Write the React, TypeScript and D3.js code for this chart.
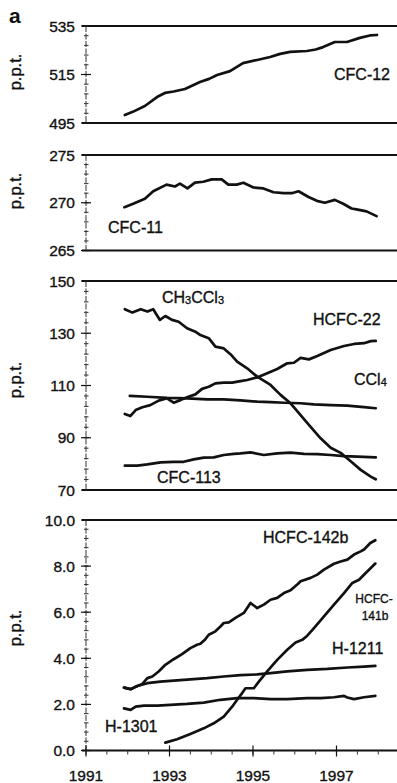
import React from "react";
import * as d3 from "d3";

// ---------- data ----------
const cfc12Years = [1991.93, 1992.12, 1992.41, 1992.70, 1992.89, 1993.10, 1993.37, 1993.73, 1993.95, 1994.14, 1994.45, 1994.76, 1995.10, 1995.41, 1995.65, 1995.89, 1996.29, 1996.50, 1996.68, 1996.96, 1997.25, 1997.56, 1997.80, 1997.97];
const cfc12Values = [498.3, 499.6, 502.0, 505.7, 507.4, 508.0, 509.0, 511.9, 513.2, 514.8, 516.4, 519.7, 521.0, 522.2, 523.5, 524.3, 524.7, 525.3, 526.3, 528.4, 528.4, 530.1, 531.1, 531.3];

const cfc11Years = [1991.92, 1992.13, 1992.41, 1992.61, 1992.93, 1993.13, 1993.25, 1993.43, 1993.61, 1993.81, 1994.01, 1994.25, 1994.41, 1994.61, 1994.77, 1995.01, 1995.25, 1995.49, 1995.73, 1995.93, 1996.09, 1996.33, 1996.53, 1996.72, 1996.96, 1997.16, 1997.36, 1997.48, 1997.72, 1997.96];
const cfc11Values = [269.54, 269.9, 270.42, 271.2, 271.9, 271.7, 272.0, 271.5, 272.1, 272.2, 272.45, 272.45, 271.9, 271.9, 272.1, 271.6, 271.5, 271.1, 271.0, 271.0, 271.2, 270.6, 270.2, 270.0, 270.3, 269.9, 269.4, 269.3, 269.1, 268.6];

const ch3ccl3Years = [1991.93, 1992.11, 1992.31, 1992.47, 1992.61, 1992.77, 1992.90, 1993.06, 1993.22, 1993.42, 1993.62, 1993.74, 1993.94, 1994.10, 1994.30, 1994.46, 1994.62, 1994.86, 1995.10, 1995.42, 1995.66, 1995.90, 1996.14, 1996.38, 1996.62, 1996.86, 1997.10, 1997.34, 1997.58, 1997.82, 1997.94];
const ch3ccl3Values = [139.2, 137.9, 139.2, 138.3, 139.2, 135.1, 136.6, 135.1, 134.4, 131.9, 130.6, 129.3, 128.1, 124.9, 124.2, 122.0, 119.1, 116.6, 113.4, 110.2, 106.4, 103.2, 98.7, 94.2, 89.8, 86.2, 84.2, 81.0, 77.7, 75.1, 74.1];

const hcfc22Years = [1991.93, 1992.06, 1992.19, 1992.35, 1992.54, 1992.74, 1992.94, 1993.10, 1993.26, 1993.42, 1993.62, 1993.78, 1993.94, 1994.10, 1994.30, 1994.50, 1994.70, 1994.86, 1995.10, 1995.34, 1995.58, 1995.82, 1995.98, 1996.14, 1996.34, 1996.54, 1996.86, 1997.18, 1997.42, 1997.66, 1997.82, 1997.94];
const hcfc22Values = [99.1, 98.3, 100.6, 101.7, 102.5, 104.2, 105.1, 103.4, 104.4, 105.5, 106.6, 108.7, 109.5, 110.8, 111.1, 111.1, 111.7, 112.1, 113.1, 114.7, 116.3, 118.5, 118.7, 120.6, 120.0, 121.3, 123.6, 125.1, 125.9, 126.2, 127.0, 127.1];

const ccl4Years = [1992.05, 1992.47, 1992.94, 1993.42, 1993.90, 1994.30, 1994.70, 1995.10, 1995.42, 1995.74, 1996.14, 1996.46, 1996.86, 1997.26, 1997.66, 1997.94];
const ccl4Values = [106.0, 105.7, 105.3, 105.1, 104.7, 104.7, 104.3, 103.8, 103.6, 103.4, 103.2, 102.8, 102.5, 102.3, 101.7, 101.3];

const cfc113Years = [1991.93, 1992.23, 1992.47, 1992.79, 1993.10, 1993.34, 1993.58, 1993.82, 1994.06, 1994.30, 1994.54, 1994.70, 1994.94, 1995.26, 1995.58, 1995.90, 1996.22, 1996.54, 1996.86, 1997.18, 1997.50, 1997.94];
const cfc113Values = [79.3, 79.3, 79.8, 80.6, 80.8, 80.8, 81.7, 82.4, 82.5, 83.4, 83.8, 84.0, 84.4, 83.4, 84.0, 84.3, 83.8, 83.7, 83.4, 83.0, 82.8, 82.5];

const hcfc142bYears = [1991.91, 1992.07, 1992.19, 1992.35, 1992.47, 1992.59, 1992.74, 1992.90, 1993.10, 1993.30, 1993.50, 1993.66, 1993.74, 1993.86, 1993.94, 1994.10, 1994.22, 1994.30, 1994.42, 1994.58, 1994.78, 1994.94, 1995.10, 1995.26, 1995.42, 1995.58, 1995.74, 1995.90, 1996.06, 1996.14, 1996.38, 1996.54, 1996.70, 1996.94, 1997.10, 1997.26, 1997.42, 1997.58, 1997.66, 1997.81, 1997.93];
const hcfc142bValues = [2.73, 2.66, 2.77, 2.89, 3.14, 3.21, 3.43, 3.72, 3.96, 4.18, 4.44, 4.59, 4.63, 4.83, 5.02, 5.17, 5.38, 5.53, 5.56, 5.75, 5.97, 6.40, 6.18, 6.33, 6.54, 6.62, 6.83, 6.95, 7.20, 7.34, 7.49, 7.63, 7.85, 8.10, 8.20, 8.28, 8.50, 8.64, 8.72, 9.00, 9.12];

const hcfc141bYears = [1992.90, 1993.18, 1993.50, 1993.82, 1994.06, 1994.30, 1994.50, 1994.62, 1994.74, 1994.82, 1995.02, 1995.14, 1995.34, 1995.58, 1995.82, 1996.02, 1996.18, 1996.30, 1996.46, 1996.70, 1996.94, 1997.18, 1997.38, 1997.54, 1997.70, 1997.93];
const hcfc141bValues = [0.34, 0.49, 0.72, 0.96, 1.18, 1.47, 1.90, 2.20, 2.49, 2.70, 2.70, 2.99, 3.43, 3.93, 4.37, 4.69, 4.80, 4.98, 5.31, 5.82, 6.33, 6.83, 7.27, 7.41, 7.70, 8.11];

const h1211Years = [1991.91, 1992.07, 1992.23, 1992.47, 1992.78, 1993.18, 1993.58, 1993.90, 1994.30, 1994.70, 1995.10, 1995.42, 1995.82, 1996.30, 1996.78, 1997.26, 1997.66, 1997.93];
const h1211Values = [2.73, 2.66, 2.80, 2.92, 2.99, 3.04, 3.10, 3.14, 3.21, 3.27, 3.30, 3.36, 3.43, 3.50, 3.54, 3.60, 3.64, 3.67];

const h1301Years = [1991.91, 1992.07, 1992.19, 1992.39, 1992.71, 1993.02, 1993.42, 1993.82, 1994.22, 1994.62, 1995.02, 1995.42, 1995.82, 1996.30, 1996.62, 1996.94, 1997.18, 1997.26, 1997.42, 1997.66, 1997.93];
const h1301Values = [1.83, 1.76, 1.90, 1.95, 1.95, 1.98, 2.02, 2.08, 2.20, 2.27, 2.27, 2.23, 2.23, 2.27, 2.27, 2.31, 2.37, 2.30, 2.23, 2.31, 2.37];

const panel1Ticks = [495, 515, 535];
const panel2Ticks = [265, 270, 275];
const panel3Ticks = [70, 90, 110, 130, 150];
const panel4Ticks = [0, 2, 4, 6, 8, 10];
const xMajorTicks = [1991, 1993, 1995, 1997];

// ---------- layout ----------
const W = 397;
const H = 783;
const X0 = 86;
const X1 = 397;
const FONT = "'Liberation Sans', Arial, Helvetica, sans-serif";
const INK = "#111";
const TXT = { fontFamily: FONT, fill: INK, stroke: INK, strokeWidth: 0.35 } as const;

const xScale = d3.scaleLinear().domain([1991, 1991 + (X1 - X0) / 41.75]).range([X0, X1]);

type Series = { years: number[]; values: number[] };

function Panel({
  domain, top, bottom, ticks, minorStep, fmt, series, labelY,
}: {
  domain: [number, number]; top: number; bottom: number; ticks: number[];
  minorStep: number; fmt: (v: number) => string; series: Series[]; labelY: number;
}) {
  const y = d3.scaleLinear().domain(domain).range([bottom, top]);
  const line = d3.line<[number, number]>().x((d) => xScale(d[0])).y((d) => y(d[1]));
  const n = Math.round((domain[1] - domain[0]) / minorStep);
  const minor = d3.range(n + 1).map((i) => domain[0] + i * minorStep);
  return (
    <g>
      <line x1={X0 - 4} x2={X1} y1={top} y2={top} stroke={INK} strokeWidth={2} />
      <line x1={X0 - 4} x2={X1} y1={bottom} y2={bottom} stroke={INK} strokeWidth={2} />
      <line x1={X0} x2={X0} y1={top} y2={bottom} stroke="#333" strokeWidth={1} strokeDasharray="6,1.5" />
      {minor.map((v, i) => (
        <line key={"m" + i} x1={X0 - 2} x2={X0 + 2.5} y1={y(v)} y2={y(v)} stroke="#333" strokeWidth={1} />
      ))}
      {ticks.map((v) => (
        <g key={v}>
          <line x1={X0 - 5} x2={X0 + 5} y1={y(v)} y2={y(v)} stroke={INK} strokeWidth={1.2} />
          <text x={75} y={y(v)} dy="0.36em" textAnchor="end" fontSize={15.5} {...TXT}>
            {fmt(v)}
          </text>
        </g>
      ))}
      <text transform={`translate(21,${labelY}) rotate(-90)`} textAnchor="middle" fontSize={16.5} {...TXT}>
        p.p.t.
      </text>
      {series.map((s, i) => (
        <path
          key={i}
          d={line(s.years.map((yr, j) => [yr, s.values[j]] as [number, number])) || ""}
          fill="none" stroke={INK} strokeWidth={2.7} strokeLinejoin="round" strokeLinecap="round"
        />
      ))}
    </g>
  );
}

export default function App() {
  const fmtInt = (v: number) => d3.format("d")(v);
  const fmt1 = (v: number) => d3.format(".1f")(v);
  const xMinor = d3.range(0, 15).map((i) => 1991 + i * 0.5);
  const axisY = 750.5;
  const lbl = { fontSize: 16, ...TXT };
  return (
    <svg width={W} height={H} viewBox={`0 0 ${W} ${H}`} style={{ position: "absolute", left: 0, top: 0, background: "#fff" }}>
      <rect x={0} y={0} width={W} height={H} fill="#fff" />
      <text x={9} y={23} fontSize={21} fontWeight="bold" fontFamily={FONT} fill={INK}>a</text>

      <Panel domain={[495, 535]} top={26} bottom={123} ticks={panel1Ticks} minorStep={4} fmt={fmtInt}
        series={[{ years: cfc12Years, values: cfc12Values }]} labelY={72} />
      <Panel domain={[265, 275]} top={155} bottom={250.5} ticks={panel2Ticks} minorStep={1} fmt={fmtInt}
        series={[{ years: cfc11Years, values: cfc11Values }]} labelY={191} />
      <Panel domain={[70, 150]} top={281} bottom={490} ticks={panel3Ticks} minorStep={4} fmt={fmtInt}
        series={[
          { years: ch3ccl3Years, values: ch3ccl3Values },
          { years: hcfc22Years, values: hcfc22Values },
          { years: ccl4Years, values: ccl4Values },
          { years: cfc113Years, values: cfc113Values },
        ]} labelY={380} />
      <Panel domain={[0, 10]} top={520} bottom={axisY} ticks={panel4Ticks} minorStep={0.4} fmt={fmt1}
        series={[
          { years: hcfc142bYears, values: hcfc142bValues },
          { years: hcfc141bYears, values: hcfc141bValues },
          { years: h1211Years, values: h1211Values },
          { years: h1301Years, values: h1301Values },
        ]} labelY={628} />

      {xMinor.map((v) => (
        <line key={v} x1={xScale(v)} x2={xScale(v)} y1={axisY} y2={axisY + 4} stroke="#333" strokeWidth={1} />
      ))}
      {xMajorTicks.map((v) => (
        <g key={v}>
          <line x1={xScale(v)} x2={xScale(v)} y1={axisY - 5} y2={axisY + 6} stroke={INK} strokeWidth={1.2} />
          <text x={xScale(v)} y={781} textAnchor="middle" fontSize={15.5} {...TXT}>{v}</text>
        </g>
      ))}

      {/* series labels */}
      <text x={334} y={80} {...lbl}>CFC-12</text>
      <text x={108} y={233} {...lbl}>CFC-11</text>
      <text x={162} y={303} {...lbl}>
        CH<tspan fontSize={11} dy={1}>3</tspan><tspan dy={-1}>CCl</tspan><tspan fontSize={11} dy={1}>3</tspan>
      </text>
      <text x={313} y={325} {...lbl}>HCFC-22</text>
      <text x={354} y={385} {...lbl}>
        CCl<tspan fontSize={11} dy={1}>4</tspan>
      </text>
      <text x={157} y={483} {...lbl}>CFC-113</text>
      <text x={263} y={543} {...lbl}>HCFC-142b</text>
      <text x={374} y={603} textAnchor="middle" fontSize={12} {...TXT}>HCFC-</text>
      <text x={375} y={620} textAnchor="middle" fontSize={12} {...TXT}>141b</text>
      <text x={332} y={654} {...lbl}>H-1211</text>
      <text x={105} y={732} {...lbl}>H-1301</text>
    </svg>
  );
}
